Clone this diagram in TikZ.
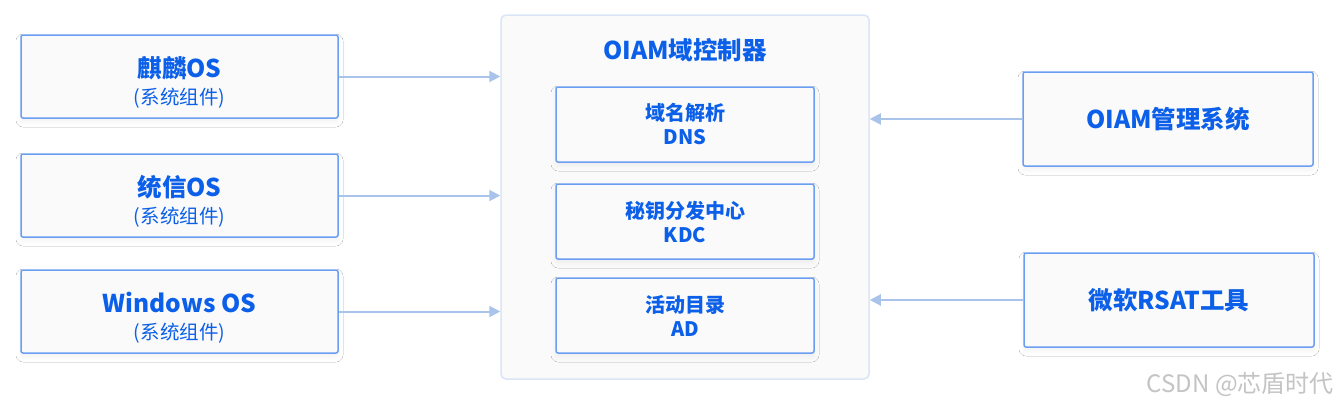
\documentclass[tikz,border=0pt]{standalone}
\usepackage{fontspec}
\setmainfont{Noto Sans CJK SC}
\usetikzlibrary{arrows.meta, positioning, shadows.blur}
\definecolor{ink}{HTML}{0B5FE8}
\definecolor{edge}{HTML}{6A9EF2}
\definecolor{wire}{HTML}{A9C3EA}
\definecolor{frame}{HTML}{DAE5F7}
\definecolor{wash}{HTML}{FAFAFA}
\definecolor{wmgray}{HTML}{C4C4C4}
\newcommand\hdfont{\bfseries\fontsize{24.5}{27}\selectfont}
\newcommand\subfont{\mdseries\fontsize{19.5}{27}\selectfont}
\newcommand\unitfont{\bfseries\fontsize{20}{24}\selectfont}
\tikzset{
  >={Triangle[length=11pt, width=11pt]},
  %
  box/.style={
    draw=edge, line width=1.5pt, fill=wash, rounded corners=2pt,
    inner sep=0pt, align=center, text=ink,
    blur shadow={shadow xshift=0pt, shadow yshift=-4pt,
                 shadow blur radius=5pt, shadow opacity=5},
  },
  osbox/.style={box, minimum width=317pt, minimum height=83pt},
  unitbox/.style={box, minimum width=258pt, minimum height=75pt,
                  font=\unitfont},
  toolbox/.style={box, minimum width=290pt, minimum height=94pt,
                  font=\hdfont},
  outerbox/.style={draw=frame, line width=1.5pt, fill=wash,
                   rounded corners=5pt, minimum width=368pt,
                   minimum height=364pt, inner sep=0pt},
  oslbl/.style={text=ink, align=center, inner sep=0pt, yshift=-6pt,
                font=\subfont},
  %
  flow/.style={draw=wire, line width=2pt, ->},
  wm/.style={text=wmgray, font=\fontsize{24}{26}\selectfont, inner sep=0pt},
}
\begin{document}
\begin{tikzpicture}[x=1pt, y=-1pt]
  \useasboundingbox[fill=white] (0,0) rectangle (1335,407);

  % the domain controller and its services
  \node[outerbox] (ctrl) at (685,197) {};
  \node[text=ink, font=\hdfont, inner sep=0pt] (title) at (685,50) {OIAM域控制器};
  \node[unitbox] (dns) at (685,124.5) {域名解析\\DNS};
  \node[unitbox] (kdc) at (685,221.5) {秘钥分发中心\\KDC};
  \node[unitbox] (ad)  at (685,315.5) {活动目录\\AD};

  % clients on the left
  \node[osbox, label={[oslbl]center:{\hdfont 麒麟OS}\\(系统组件)}]
    (kylin) at (179.5,76.5) {};
  \node[osbox, label={[oslbl]center:{\hdfont 统信OS}\\(系统组件)}]
    (uos) at (179.5,195.5) {};
  \node[osbox, label={[oslbl]center:{\hdfont Windows OS}\\(系统组件)}]
    (win) at (179.5,311.5) {};

  % management tools on the right
  \node[toolbox] (oiam) at (1168,119) {OIAM管理系统};
  \node[toolbox] (rsat) at (1169,300) {微软RSAT工具};

  \draw[flow] (kylin.east) -- (kylin.east -| ctrl.west);
  \draw[flow] (uos.east)   -- (uos.east -| ctrl.west);
  \draw[flow] (win.east)   -- (win.east -| ctrl.west);
  \draw[flow] (oiam.west)  -- (oiam.west -| ctrl.east);
  \draw[flow] (rsat.west)  -- (rsat.west -| ctrl.east);

  \node[wm, anchor=east] (credit) at (1334,384) {CSDN @芯盾时代};

\end{tikzpicture}
\end{document}
